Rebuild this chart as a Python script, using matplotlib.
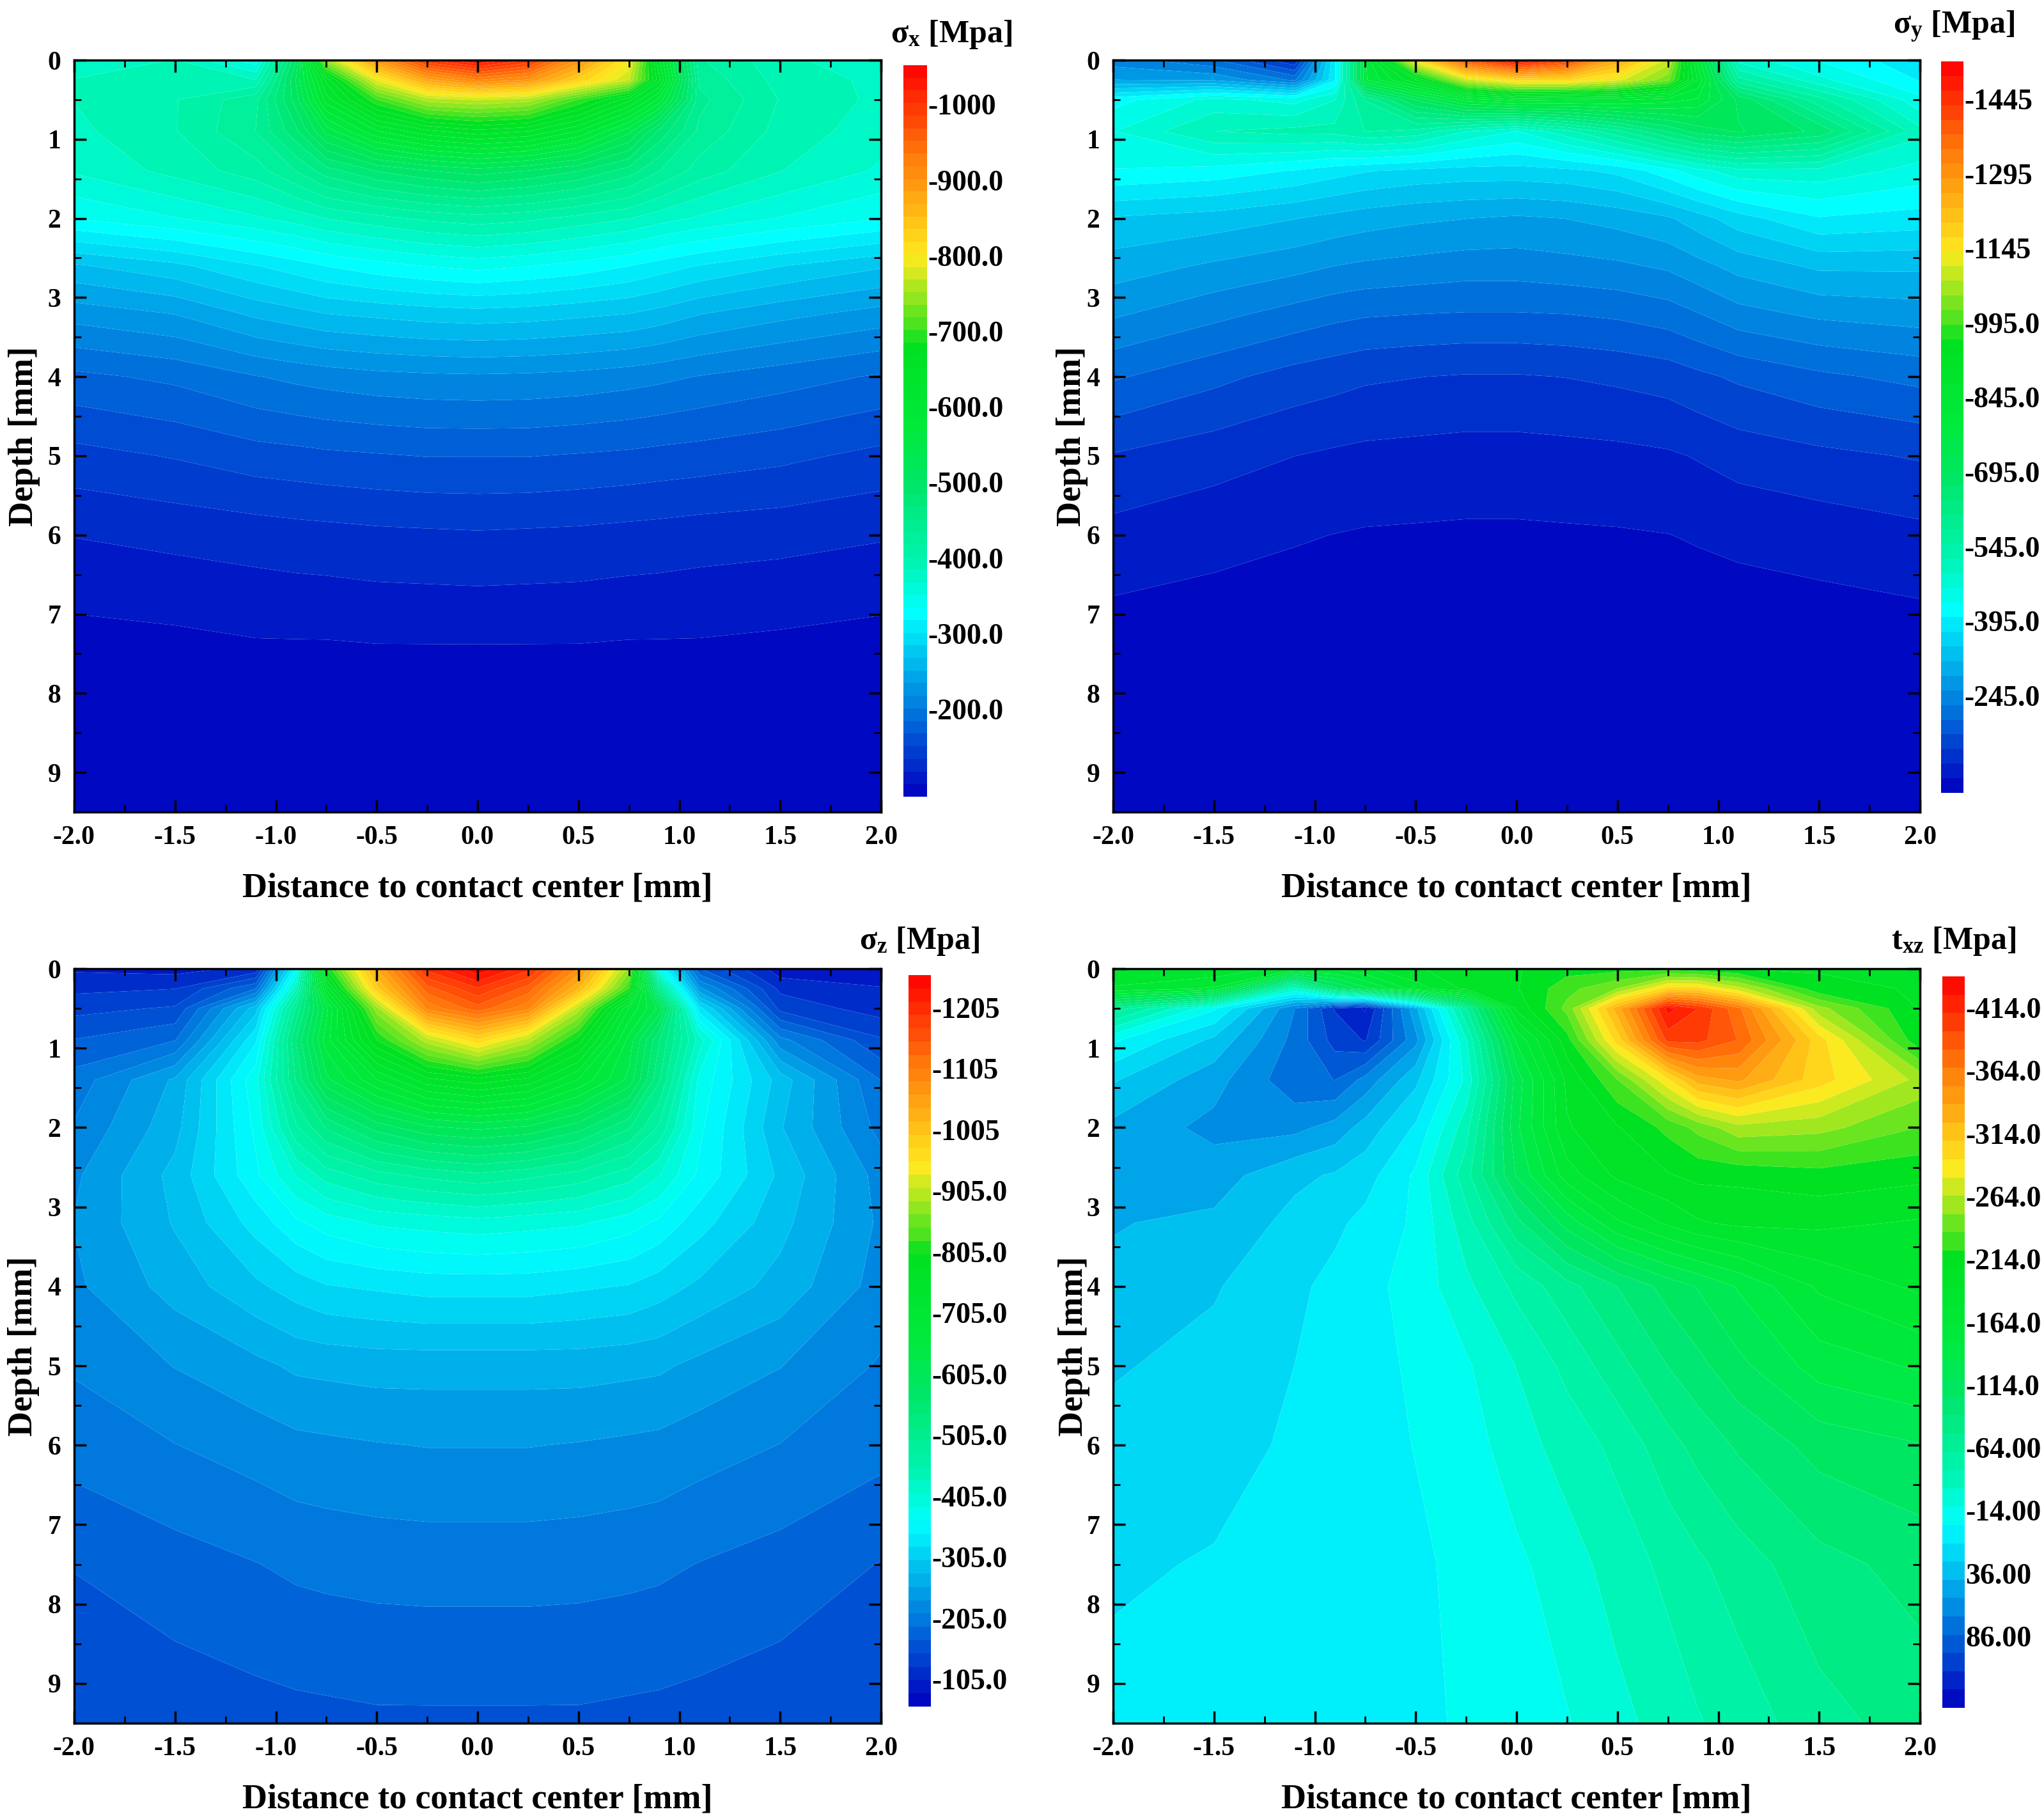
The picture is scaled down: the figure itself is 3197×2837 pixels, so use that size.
import numpy as np
import matplotlib
matplotlib.use("Agg")
import matplotlib.pyplot as plt
from matplotlib.colors import LinearSegmentedColormap

W, H = 3197, 2837

plt.rcParams["font.family"] = ["Liberation Serif", "DejaVu Serif"]
plt.rcParams["font.weight"] = "bold"
plt.rcParams["mathtext.fontset"] = "custom"
plt.rcParams["mathtext.rm"] = "Liberation Serif:bold"
plt.rcParams["mathtext.bf"] = "Liberation Serif:bold"
plt.rcParams["mathtext.it"] = "Liberation Serif:bold"

# grid the stresses were read on
dist = [-2, -1.5, -1.1, -0.9, -0.75, -0.5, -0.25, 0, 0.25, 0.5, 0.75, 0.9, 1.1, 1.5, 2]
depth = [0, 0.25, 0.5, 0.9, 1.4, 2, 2.6, 3.2, 4, 5, 6, 7.5, 9.5]

# compressive stress magnitudes in MPa, one row per depth
sigma_x = [
    [375, 385, 340, 500, 750, 900, 1000, 1040, 1000, 900, 800, 620, 420, 390, 370],
    [385, 390, 385, 520, 640, 790, 880, 920, 900, 830, 770, 640, 430, 395, 380],
    [385, 400, 430, 510, 610, 700, 760, 770, 760, 700, 640, 580, 440, 400, 380],
    [380, 400, 435, 480, 540, 600, 630, 645, 635, 600, 540, 480, 430, 395, 375],
    [370, 390, 410, 435, 460, 485, 500, 510, 500, 485, 460, 435, 410, 385, 365],
    [335, 350, 365, 375, 385, 395, 405, 410, 405, 395, 385, 375, 365, 350, 335],
    [265, 280, 300, 310, 318, 328, 335, 340, 335, 328, 318, 310, 300, 285, 270],
    [225, 235, 255, 262, 268, 272, 276, 278, 276, 272, 268, 262, 252, 240, 228],
    [180, 188, 200, 205, 208, 212, 214, 215, 214, 212, 208, 205, 200, 192, 182],
    [145, 152, 160, 162, 164, 166, 168, 168, 168, 166, 164, 162, 160, 155, 146],
    [118, 122, 125, 127, 128, 130, 131, 132, 131, 130, 128, 127, 125, 123, 119],
    [92, 94, 97, 97, 97, 98, 98, 98, 98, 98, 97, 97, 97, 95, 92],
    [86, 86, 86, 86, 86, 86, 86, 86, 86, 86, 86, 86, 86, 86, 86],
]

sigma_y = [
    [240, 200, 110, 400, 780, 1150, 1400, 1510, 1430, 1250, 1100, 800, 480, 430, 380],
    [285, 280, 220, 400, 780, 900, 1100, 1170, 1170, 1120, 1030, 840, 560, 470, 400],
    [420, 470, 450, 490, 580, 700, 800, 830, 820, 820, 800, 780, 690, 560, 440],
    [460, 520, 530, 530, 550, 540, 490, 460, 510, 570, 640, 680, 700, 660, 500],
    [430, 420, 400, 385, 375, 365, 360, 360, 365, 380, 420, 450, 480, 480, 450],
    [340, 330, 315, 305, 298, 290, 285, 280, 285, 295, 310, 330, 360, 400, 390],
    [300, 280, 265, 255, 250, 245, 240, 240, 245, 250, 260, 275, 295, 320, 320],
    [260, 235, 215, 205, 200, 197, 195, 195, 197, 202, 212, 225, 245, 262, 270],
    [200, 175, 155, 148, 142, 138, 135, 135, 138, 143, 150, 160, 172, 190, 205],
    [135, 120, 108, 103, 100, 98, 96, 96, 98, 100, 104, 110, 120, 130, 140],
    [98, 88, 81, 78, 76, 75, 74, 74, 75, 76, 78, 81, 85, 91, 100],
    [60, 58, 56, 55, 54, 54, 53, 53, 54, 54, 55, 56, 57, 58, 60],
    [50, 50, 50, 50, 50, 50, 50, 50, 50, 50, 50, 50, 50, 50, 50],
]

sigma_z = [
    [100, 95, 110, 360, 800, 1040, 1200, 1255, 1200, 1080, 880, 380, 170, 90, 90],
    [120, 125, 190, 430, 720, 990, 1140, 1190, 1140, 1020, 820, 500, 240, 120, 105],
    [140, 150, 290, 500, 640, 880, 1090, 1140, 1090, 900, 690, 620, 330, 140, 115],
    [170, 190, 340, 540, 660, 800, 900, 970, 900, 790, 640, 540, 420, 220, 150],
    [200, 260, 380, 520, 620, 690, 750, 770, 750, 690, 620, 520, 380, 290, 190],
    [215, 270, 370, 470, 520, 570, 600, 610, 600, 570, 520, 470, 370, 280, 205],
    [230, 285, 360, 410, 440, 465, 480, 490, 480, 465, 440, 410, 360, 295, 225],
    [235, 280, 330, 360, 375, 390, 395, 400, 395, 390, 375, 360, 330, 285, 230],
    [230, 265, 295, 310, 320, 325, 330, 330, 330, 325, 320, 310, 295, 270, 225],
    [215, 235, 250, 260, 262, 265, 265, 265, 265, 265, 262, 260, 250, 235, 210],
    [200, 212, 222, 228, 230, 233, 235, 235, 235, 233, 230, 228, 222, 212, 198],
    [170, 182, 190, 195, 197, 199, 200, 200, 200, 199, 197, 195, 190, 182, 168],
    [150, 155, 160, 162, 163, 165, 165, 165, 165, 165, 163, 162, 160, 155, 148],
]

# shear with its sign flipped, so that the hot end is positive like the others
tau_xz = [
    [190, 190, 170, 165, 175, 190, 200, 205, 215, 215, 215, 210, 205, 205, 205],
    [175, 160, 30, 100, 130, 170, 195, 205, 230, 250, 300, 300, 270, 210, 205],
    [70, 5, -70, -115, -130, -45, 60, 195, 240, 330, 430, 410, 370, 255, 205],
    [5, -30, -75, -105, -115, -60, 30, 150, 215, 300, 400, 400, 380, 300, 210],
    [-25, -50, -80, -85, -65, -30, 20, 125, 195, 235, 290, 330, 340, 300, 260],
    [-45, -60, -60, -50, -35, -10, 40, 130, 190, 205, 225, 240, 260, 255, 235],
    [-50, -48, -30, -25, -18, 5, 55, 120, 170, 195, 205, 210, 210, 215, 210],
    [-42, -38, -22, -15, -8, 5, 40, 85, 125, 160, 180, 190, 195, 195, 190],
    [-38, -28, -15, -8, -2, 8, 28, 50, 70, 90, 110, 120, 135, 165, 180],
    [-28, -22, -12, -8, -3, 5, 15, 32, 50, 70, 90, 100, 115, 140, 150],
    [-22, -17, -10, -7, -3, 3, 10, 25, 38, 50, 70, 80, 92, 110, 118],
    [-14, -11, -7, -5, -3, 0, 6, 14, 25, 38, 50, 58, 68, 85, 95],
    [-8, -7, -5, -3, -2, 0, 4, 8, 16, 27, 38, 45, 52, 70, 82],
]

x_ticks = [-2, -1.5, -1, -0.5, 0, 0.5, 1, 1.5, 2]
x_labels = ["-2.0", "-1.5", "-1.0", "-0.5", "0.0", "0.5", "1.0", "1.5", "2.0"]
y_ticks = [0, 1, 2, 3, 4, 5, 6, 7, 8, 9]

x_cb_ticks = [1000, 900, 800, 700, 600, 500, 400, 300, 200]
x_cb_labels = ["-1000", "-900.0", "-800.0", "-700.0", "-600.0", "-500.0", "-400.0", "-300.0", "-200.0"]
y_cb_ticks = [1445, 1295, 1145, 995, 845, 695, 545, 395, 245]
y_cb_labels = ["-1445", "-1295", "-1145", "-995.0", "-845.0", "-695.0", "-545.0", "-395.0", "-245.0"]
z_cb_ticks = [1205, 1105, 1005, 905, 805, 705, 605, 505, 405, 305, 205, 105]
z_cb_labels = ["-1205", "-1105", "-1005", "-905.0", "-805.0", "-705.0", "-605.0", "-505.0", "-405.0",
               "-305.0", "-205.0", "-105.0"]
t_cb_ticks = [414, 364, 314, 264, 214, 164, 114, 64, 14, -36, -86]
t_cb_labels = ["-414.0", "-364.0", "-314.0", "-264.0", "-214.0", "-164.0", "-114.0", "-64.00", "-14.00",
               "36.00", "86.00"]

jet_like = LinearSegmentedColormap.from_list("jet_like", [
    (0.00, (0.00, 0.00, 0.75)),
    (0.25, (0.00, 1.00, 1.00)),
    (0.32, (0.00, 0.96, 0.70)),
    (0.43, (0.00, 0.90, 0.40)),
    (0.50, (0.00, 0.92, 0.24)),
    (0.62, (0.00, 0.88, 0.12)),
    (0.64, (0.25, 0.89, 0.12)),
    (0.74, (1.00, 0.92, 0.12)),
    (0.88, (1.00, 0.47, 0.04)),
    (1.00, (1.00, 0.00, 0.00)),
])


def px_axes(fig, x0, y0, x1, y1):
    # axes from pixel corners of the reference
    return fig.add_axes([x0 / W, 1 - y1 / H, (x1 - x0) / W, (y1 - y0) / H])


def draw_panel(fig, values, vmin, vmax, n_levels, cb_ticks, cb_labels, title, box, cb_box, title_pos, ylabel_pad):
    ax = px_axes(fig, *box)
    levels = np.linspace(vmin, vmax, n_levels + 1)
    cf = ax.contourf(dist, depth, values, levels=levels, cmap=jet_like, antialiased=True)
    ax.set_xlim(-2, 2)
    ax.set_ylim(9.5, 0)

    ax.set_xticks(x_ticks)
    ax.set_xticklabels(x_labels)
    ax.set_yticks(y_ticks)
    ax.set_xticks(np.arange(-1.75, 2, 0.5), minor=True)
    ax.set_yticks(np.arange(0.5, 9.5, 1), minor=True)
    ax.tick_params(which="major", direction="in", top=True, right=True, length=14, width=2.5,
                   labelsize=30, pad=15)
    ax.tick_params(which="minor", direction="in", top=True, right=True, length=8, width=2)
    for spine in ax.spines.values():
        spine.set_linewidth(2.5)
    ax.set_xlabel("Distance to contact center [mm]", fontsize=39, fontweight="bold", labelpad=26)
    ax.set_ylabel("Depth [mm]", fontsize=39, fontweight="bold", labelpad=ylabel_pad)

    cax = px_axes(fig, *cb_box)
    cb = fig.colorbar(cf, cax=cax)
    cb.outline.set_visible(False)
    cb.solids.set_antialiased(False)
    cb.set_ticks(cb_ticks)
    cb.set_ticklabels(cb_labels)
    cb.minorticks_off()
    cax.tick_params(length=0, labelsize=33, pad=1)

    fig.text(title_pos[0] / W, 1 - title_pos[1] / H, title, ha="right", va="center",
             fontsize=36, fontweight="bold")


fig = plt.figure(figsize=(W / 100, H / 100), dpi=100)

draw_panel(fig, sigma_x, 84, 1052, 58, x_cb_ticks, x_cb_labels, r"σ$_{\mathbf{x}}$ [Mpa]",
           (116, 94, 1378, 1270), (1413, 102, 1450, 1246), (1583, 54), 8)
draw_panel(fig, sigma_y, 49, 1521, 50, y_cb_ticks, y_cb_labels, r"σ$_{\mathbf{y}}$ [Mpa]",
           (1741, 94, 3003, 1270), (3036, 96, 3071, 1240), (3151, 42), -2)
draw_panel(fig, sigma_z, 60, 1258, 55, z_cb_ticks, z_cb_labels, r"σ$_{\mathbf{z}}$ [Mpa]",
           (116, 1515, 1378, 2695), (1421, 1525, 1456, 2669), (1532, 1472), 9)
draw_panel(fig, tau_xz, -143, 439, 40, t_cb_ticks, t_cb_labels, r"t$_{\mathbf{xz}}$ [Mpa]",
           (1741, 1515, 3003, 2695), (3038, 1527, 3073, 2671), (3153, 1472), -4)

fig.savefig("out.png", dpi=100)
